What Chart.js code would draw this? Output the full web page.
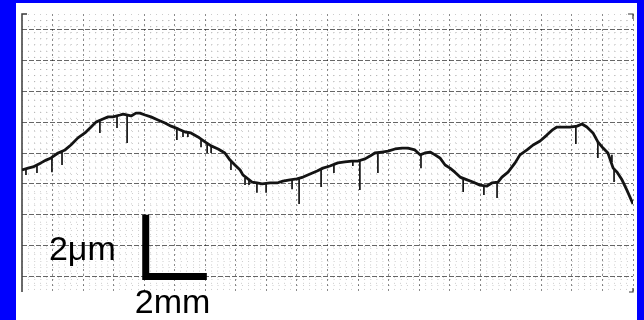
<!DOCTYPE html>
<html>
<head>
<meta charset="utf-8">
<script src="https://cdn.jsdelivr.net/npm/chart.js@4.4.1/dist/chart.umd.min.js"></script>
<style>
  html, body { margin: 0; padding: 0; width: 644px; height: 320px; overflow: hidden; background: #0000fe; }
  #sheet { position: absolute; left: 16px; top: 3px; width: 621px; height: 317px; background: #ffffff; }
</style>
</head>
<body>
<div id="sheet"><canvas id="profile"></canvas></div>
<script>
// Surface profile along the scan: position (mm) and height (μm)
const profileX = [0, 0.20, 0.36, 0.62, 0.79, 0.95, 1.18, 1.41, 1.60, 1.83, 2.06, 2.26, 2.42, 2.65, 2.82, 2.98,
  3.21, 3.31, 3.57, 3.73, 3.86, 4.03, 4.22, 4.45, 4.68, 4.88, 5.11, 5.34, 5.53, 5.76, 5.99, 6.19, 6.42,
  6.64, 6.81, 6.97, 7.14, 7.23, 7.53, 7.69, 7.86, 8.12, 8.35, 8.54, 8.77, 9.00, 9.20, 9.43, 9.66, 9.85,
  10.08, 10.34, 10.57, 10.80, 11.00, 11.23, 11.39, 11.55, 11.78, 11.98, 12.21, 12.44, 12.63, 12.86, 13.03,
  13.19, 13.36, 13.52, 13.68, 13.85, 14.01, 14.17, 14.34, 14.57, 14.76, 14.99, 15.22, 15.38, 15.58, 15.71,
  15.91, 16.14, 16.30, 16.53, 16.73, 16.96, 17.18, 17.35, 17.51, 17.71, 17.94, 18.17, 18.33, 18.49, 18.69,
  18.85, 19.02, 19.18, 19.35, 19.48, 19.64, 19.80, 20.0];
const profileY = [3.45, 3.51, 3.55, 3.68, 3.77, 3.84, 4.00, 4.10, 4.26, 4.49, 4.65, 4.84, 5.00, 5.10, 5.17, 5.17,
  5.23, 5.26, 5.20, 5.29, 5.29, 5.23, 5.17, 5.07, 4.97, 4.87, 4.78, 4.68, 4.65, 4.52, 4.36, 4.23, 4.13,
  4.00, 3.77, 3.61, 3.45, 3.29, 3.06, 3.03, 3.00, 3.03, 3.03, 3.09, 3.13, 3.16, 3.22, 3.32, 3.42, 3.51,
  3.58, 3.68, 3.71, 3.74, 3.74, 3.81, 3.90, 4.00, 4.03, 4.06, 4.13, 4.16, 4.16, 4.10, 3.94,
  4.00, 4.03, 3.94, 3.84, 3.61, 3.51, 3.38, 3.22, 3.13, 3.06, 2.96, 2.93, 3.03, 3.06, 3.22,
  3.38, 3.68, 3.94, 4.10, 4.26, 4.39, 4.58, 4.74, 4.84, 4.84, 4.84, 4.87, 4.94, 4.84, 4.65,
  4.36, 4.16, 4.00, 3.51, 3.38, 3.13, 2.80, 2.35];

// Narrow downward dips in the trace: position (mm), top and bottom (μm)
const dipX = [0.13, 0.49, 0.98, 1.31, 2.55, 3.11, 3.44, 5.07, 5.27, 5.43, 5.86, 6.06, 6.19, 6.84, 7.30, 7.43,
  7.69, 7.99, 8.84, 9.07, 9.79, 10.21, 10.83, 11.06, 11.65, 13.06, 14.44, 15.12, 15.55, 18.13, 18.85, 19.31, 19.38];
const dipTop = [3.48, 3.61, 3.84, 4.03, 5.03, 5.20, 5.23, 4.81, 4.71, 4.68, 4.45, 4.32, 4.23, 3.71, 3.19, 3.13,
  3.03, 3.00, 3.13, 3.16, 3.48, 3.61, 3.74, 3.74, 4.00, 3.94, 3.19, 2.96, 3.06, 4.84, 4.36, 3.94, 3.45];
const dipBottom = [3.29, 3.35, 3.38, 3.61, 4.65, 4.81, 4.32, 4.42, 4.52, 4.52, 4.19, 4.00, 4.00, 3.45, 2.96, 2.96,
  2.71, 2.71, 2.83, 2.35, 2.90, 3.35, 3.58, 2.80, 3.35, 3.51, 2.74, 2.64, 2.54, 4.29, 3.84, 3.71, 3.06];

// Chart-paper grid (mm across, μm up)
const xRange = [0, 20];
const yRange = [-0.5, 8.5];
const xMajorTicks = [1, 2, 3, 4, 5, 6, 7, 8, 9, 10, 11, 12, 13, 14, 15, 16, 17, 18, 19, 20];
const yMajorTicks = [0, 1, 2, 3, 4, 5, 6, 7, 8];
const minorStep = 0.2;

// Scale bar: corner position and the two lengths it marks
const scaleBarCorner = { x: 4.05, y: 0 };
const scaleBarHeight = 2; // μm
const scaleBarWidth = 2;  // mm
const scaleBarLabels = ['2\u03bcm', '2mm'];

function minorValues(lo, hi) {
  const out = [];
  const n = Math.round((hi - lo) / minorStep);
  for (let i = 1; i < n; i++) {
    const v = Math.round((lo + i * minorStep) * 100) / 100;
    if (Math.abs(v - Math.round(v)) > 1e-6) out.push(v);
  }
  return out;
}
const xMinorTicks = minorValues(xRange[0], xRange[1]);
const yMinorTicks = minorValues(yRange[0], yRange[1]);

const profilePoints = profileX.map((x, i) => ({ x, y: profileY[i] }));
const dipPoints = [];
dipX.forEach((x, i) => {
  dipPoints.push({ x, y: dipTop[i] }, { x, y: dipBottom[i] }, { x, y: null });
});
const scaleBarPoints = [
  { x: scaleBarCorner.x, y: scaleBarCorner.y + scaleBarHeight },
  { x: scaleBarCorner.x, y: scaleBarCorner.y },
  { x: scaleBarCorner.x + scaleBarWidth, y: scaleBarCorner.y }
];

const setTicks = list => scale => { scale.ticks = list.map(v => ({ value: v })); };

function gridScale(axis, range, ticks, color, dash, z) {
  return {
    type: 'linear', axis, position: axis === 'x' ? 'bottom' : 'left',
    min: range[0], max: range[1],
    afterBuildTicks: setTicks(ticks),
    ticks: { display: false },
    grid: { color, lineWidth: 1, drawTicks: false, z },
    border: { display: false, dash }
  };
}

// Left edge of the paper and the small corner marks
const paperFrame = {
  id: 'paperFrame',
  beforeDatasetsDraw(chart) {
    const { ctx, chartArea: a } = chart;
    ctx.save();
    ctx.strokeStyle = '#3a3a3a';
    ctx.lineWidth = 1.5;
    ctx.beginPath();
    ctx.moveTo(a.left + 5, a.top);
    ctx.lineTo(a.left, a.top);
    ctx.lineTo(a.left, a.bottom);
    ctx.stroke();
    ctx.lineWidth = 1.2;
    ctx.beginPath();
    ctx.moveTo(a.right - 5, a.top);
    ctx.lineTo(a.right, a.top);
    ctx.lineTo(a.right, a.top + 5);
    ctx.moveTo(a.right - 4, a.bottom);
    ctx.lineTo(a.right, a.bottom);
    ctx.lineTo(a.right, a.bottom - 4);
    ctx.stroke();
    ctx.restore();
  }
};

// Labels of the scale bar, placed from the bar's own points
const scaleBarText = {
  id: 'scaleBarText',
  afterDatasetsDraw(chart) {
    const { ctx, scales: { x, y } } = chart;
    const cx = x.getPixelForValue(scaleBarCorner.x);
    const midY = y.getPixelForValue(scaleBarCorner.y + scaleBarHeight / 2);
    const baseY = y.getPixelForValue(scaleBarCorner.y);
    ctx.save();
    ctx.fillStyle = '#000';
    ctx.font = '34px "Liberation Sans", Arial, sans-serif';
    ctx.textBaseline = 'alphabetic';
    ctx.textAlign = 'right';
    ctx.fillText(scaleBarLabels[0], cx - 30, midY + 14);
    ctx.textAlign = 'left';
    ctx.fillText(scaleBarLabels[1], cx - 11, baseY + 36);
    ctx.restore();
  }
};

new Chart(document.getElementById('profile'), {
  type: 'line',
  data: {
    datasets: [
      {
        data: profilePoints, borderColor: '#141414', borderWidth: 2.8,
        pointRadius: 0, tension: 0, borderJoinStyle: 'round'
      },
      {
        data: dipPoints, borderColor: '#141414', borderWidth: 1.7,
        pointRadius: 0, tension: 0, spanGaps: false
      },
      {
        data: scaleBarPoints, borderColor: '#000', borderWidth: 7,
        pointRadius: 0, tension: 0, borderJoinStyle: 'miter', borderCapStyle: 'butt'
      }
    ]
  },
  options: {
    responsive: true, maintainAspectRatio: false, animation: false, devicePixelRatio: 1,
    layout: { padding: { left: 6, top: 11, right: 4, bottom: 28 } },
    plugins: { legend: { display: false }, tooltip: { enabled: false } },
    scales: {
      xm: gridScale('x', xRange, xMinorTicks, 'rgba(0,0,0,0.2)', [1, 5.11], -1),
      ym: gridScale('y', yRange, yMinorTicks, 'rgba(0,0,0,0.2)', [1, 5.11], -1),
      x: gridScale('x', xRange, xMajorTicks, 'rgba(0,0,0,0.45)', [2, 3], 0),
      y: gridScale('y', yRange, yMajorTicks, 'rgba(0,0,0,0.6)', [5, 2], 0)
    }
  },
  plugins: [paperFrame, scaleBarText]
});
</script>
</body>
</html>
